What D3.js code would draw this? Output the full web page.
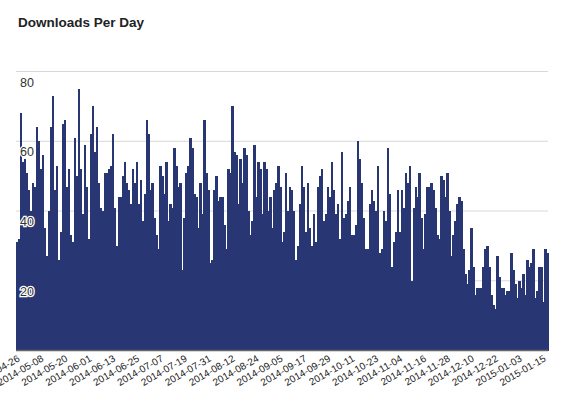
<!DOCTYPE html>
<html><head><meta charset="utf-8">
<script src="https://cdn.jsdelivr.net/npm/d3@7"></script>
<style>body{margin:0;background:#fff;font-family:"Liberation Sans",Arial,sans-serif}</style>
</head><body><svg id="c" width="565" height="405"></svg>
<script>
const startDate = "2014-04-26";
const values = [31,32,68,54,55,51,46,40,48,47,64,60,52,56,35,27,40,64,73,46,53,26,34,65,66,47,52,33,31,61,50,75,52,39,59,47,32,62,70,57,64,48,41,40,51,51,52,53,62,41,30,44,44,50,54,48,46,42,52,48,54,42,
49,37,45,66,62,46,48,38,33,29,53,50,45,54,37,42,41,58,53,47,48,23,38,51,53,61,58,45,44,35,48,39,66,51,46,25,26,46,50,43,44,44,36,29,52,51,70,57,56,42,55,48,58,56,40,33,37,59,44,54,52,39,
54,52,40,44,35,46,48,53,47,31,34,51,40,47,46,40,26,30,42,53,47,34,48,35,30,39,31,47,50,52,37,39,47,44,54,46,39,42,32,57,38,39,43,47,33,33,36,60,55,48,38,29,29,42,46,43,40,53,28,29,40,37,58,45,24,31,34,46,
34,46,41,51,48,53,20,41,47,44,51,38,29,39,47,47,48,46,41,33,32,50,49,44,51,40,27,33,37,42,44,43,29,22,19,23,35,24,16,18,18,18,24,29,30,24,16,13,12,27,21,18,18,16,17,17,28,23,19,15,20,18,22,16,26,24,25,29,15,17,24,24,14,29,28];
const yTicks = [20,40,60,80];
const tickEvery = 12;

const svg = d3.select("#c");
const parse = d3.timeParse("%Y-%m-%d"), fmt = d3.timeFormat("%Y-%m-%d");
const d0 = parse(startDate);
const data = values.map((v,i)=>({date: d3.timeDay.offset(d0,i), v}));
const L=16,R=548,T=71.5,B=350.5;
const x = d3.scaleBand().domain(data.map(d=>fmt(d.date))).range([L,R]).padding(0);
const y = d3.scaleLinear().domain([0,80]).range([B,T]);

svg.append("text").attr("x",18).attr("y",27).attr("font-size",13.5).attr("font-weight","bold").attr("fill","#222").text("Downloads Per Day");

svg.append("g").selectAll("line").data(yTicks).join("line")
 .attr("x1",L).attr("x2",R).attr("y1",d=>y(d)).attr("y2",d=>y(d)).attr("stroke","#d8d8d8");

svg.append("g").attr("shape-rendering","crispEdges").selectAll("rect").data(data).join("rect")
 .attr("x",d=>x(fmt(d.date))).attr("width",x.bandwidth()+0.5)
 .attr("y",d=>y(d.v)).attr("height",d=>B-y(d.v)).attr("fill","#283673");

svg.append("g").selectAll("text").data(yTicks).join("text")
 .attr("x",20).attr("y",d=>y(d)+15).attr("font-size",12.5).attr("fill","#333")
 .attr("stroke","#fff").attr("stroke-width",2.5).attr("paint-order","stroke").text(d=>d);

svg.append("line").attr("x1",L).attr("x2",R).attr("y1",B).attr("y2",B).attr("stroke","#666").attr("stroke-width",1.5);

const tickDates = x.domain().filter((d,i)=>i%tickEvery===0);
const ax = d3.axisBottom(x).tickValues(tickDates).tickSize(0).tickPadding(0);
const g = svg.append("g").attr("transform",`translate(0,${B+4})`).call(ax);
g.select(".domain").remove();
g.selectAll("text").attr("font-size",10).attr("fill","#222").attr("font-family","Liberation Sans, Arial")
 .attr("text-anchor","end").attr("dy","0.7em").attr("transform","rotate(-30)");
</script></body></html>
